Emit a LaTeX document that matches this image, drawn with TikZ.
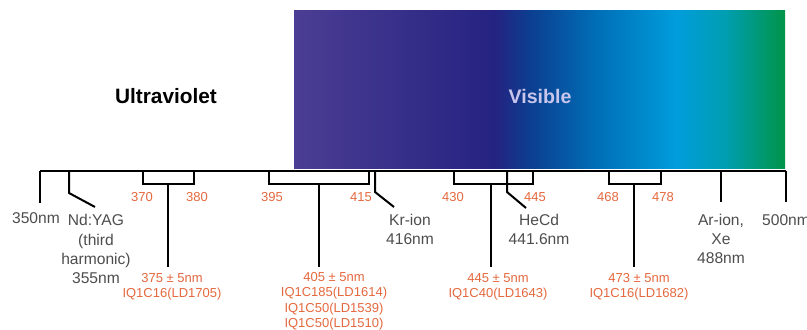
\documentclass[tikz,border=0pt]{standalone}
\usepackage{fontspec}
\setmainfont{Liberation Sans}

\definecolor{specA}{RGB}{75,61,147}
\definecolor{specB}{RGB}{37,35,129}
\definecolor{specC}{RGB}{12,62,144}
\definecolor{specD}{RGB}{0,112,184}
\definecolor{specE}{RGB}{0,157,220}
\definecolor{specF}{RGB}{0,158,176}
\definecolor{specG}{RGB}{0,148,72}
\definecolor{labgray}{RGB}{77,77,77}
\definecolor{laserorange}{RGB}{228,104,62}
\definecolor{vistext}{RGB}{200,198,236}

\pgfdeclarehorizontalshading{visspec}{100bp}{color(0bp)=(specA); color(25bp)=(specA);
  color(45.5bp)=(specB); color(49bp)=(specC); color(56bp)=(specD);
  color(64bp)=(specE); color(69bp)=(specF); color(75bp)=(specG); color(100bp)=(specG)}

\tikzset{
  scaleline/.style={line width=1pt},
  wave/.style={text=labgray, font=\fontsize{7.8}{9.7}\selectfont, align=center, anchor=base, inner sep=0pt},
  laser/.style={text=laserorange, font=\fontsize{6.5}{7.75}\selectfont, align=center, anchor=base, inner sep=0pt},
  band/.style={font=\fontsize{10.4}{12}\selectfont\bfseries, anchor=base, inner sep=0pt}
}

\begin{document}
\begin{tikzpicture}[x=0.5pt,y=-0.5pt]
  \useasboundingbox (0,0) rectangle (807,330);

  % visible band
  \shade[shading=visspec] (294,11) rectangle (785,169);
  \node[band] (uv) at (166,104) {Ultraviolet};
  \node[band, text=vistext, font=\fontsize{9.8}{12}\selectfont\bfseries] (vis) at (540,104) {Visible};

  % scale
  \draw[scaleline] (40,171) -- (786,171);

  \draw[scaleline] (40,171) -- (40,203);
  \draw[scaleline] (69,171) -- (69,193) -- (95,207);
  \draw[scaleline] (375,171) -- (375,192) -- (394,207);
  \draw[scaleline] (507,171) -- (507,192) -- (526,208);
  \draw[scaleline] (721,171) -- (721,202);
  \draw[scaleline] (786,171) -- (786,202);

  % diode brackets
  \draw[scaleline] (143,171) -- (143,184) -- (194,184) -- (194,171);
  \draw[scaleline] (168,184) -- (168,267);
  \draw[scaleline] (269,171) -- (269,184) -- (369,184) -- (369,171);
  \draw[scaleline] (319,184) -- (319,267);
  \draw[scaleline] (454,171) -- (454,184) -- (533,184) -- (533,171);
  \draw[scaleline] (491,184) -- (491,267);
  \draw[scaleline] (609,171) -- (609,184) -- (661,184) -- (661,171);
  \draw[scaleline] (634,184) -- (634,267);

  % wavelengths (base = last line)
  \node[wave] (w350) at (36,224) {350nm};
  \node[wave] (ndyag) at (96,284) {Nd:YAG\\(third\\harmonic)\\355nm};
  \node[wave] (krion) at (410,245) {Kr-ion\\416nm};
  \node[wave] (hecd) at (539,245) {HeCd\\441.6nm};
  \node[wave] (arion) at (721,264) {Ar-ion,\\Xe\\488nm};
  \node[wave] (w500) at (786,226) {500nm};

  % bracket ends
  \node[laser] (b370) at (142,202) {370};
  \node[laser] (b380) at (197,202) {380};
  \node[laser] (b395) at (272,202) {395};
  \node[laser] (b415) at (361,202) {415};
  \node[laser] (b430) at (453,202) {430};
  \node[laser] (b445) at (535,202) {445};
  \node[laser] (b468) at (608,202) {468};
  \node[laser] (b478) at (663,202) {478};

  % diodes
  \node[laser] (d375) at (172,298) {375 ± 5nm\\IQ1C16(LD1705)};
  \node[laser] (d405) at (334,328) {405 ± 5nm\\IQ1C185(LD1614)\\IQ1C50(LD1539)\\IQ1C50(LD1510)};
  \node[laser] (d445) at (498,298) {445 ± 5nm\\IQ1C40(LD1643)};
  \node[laser] (d473) at (639,298) {473 ± 5nm\\IQ1C16(LD1682)};
\end{tikzpicture}
\end{document}
